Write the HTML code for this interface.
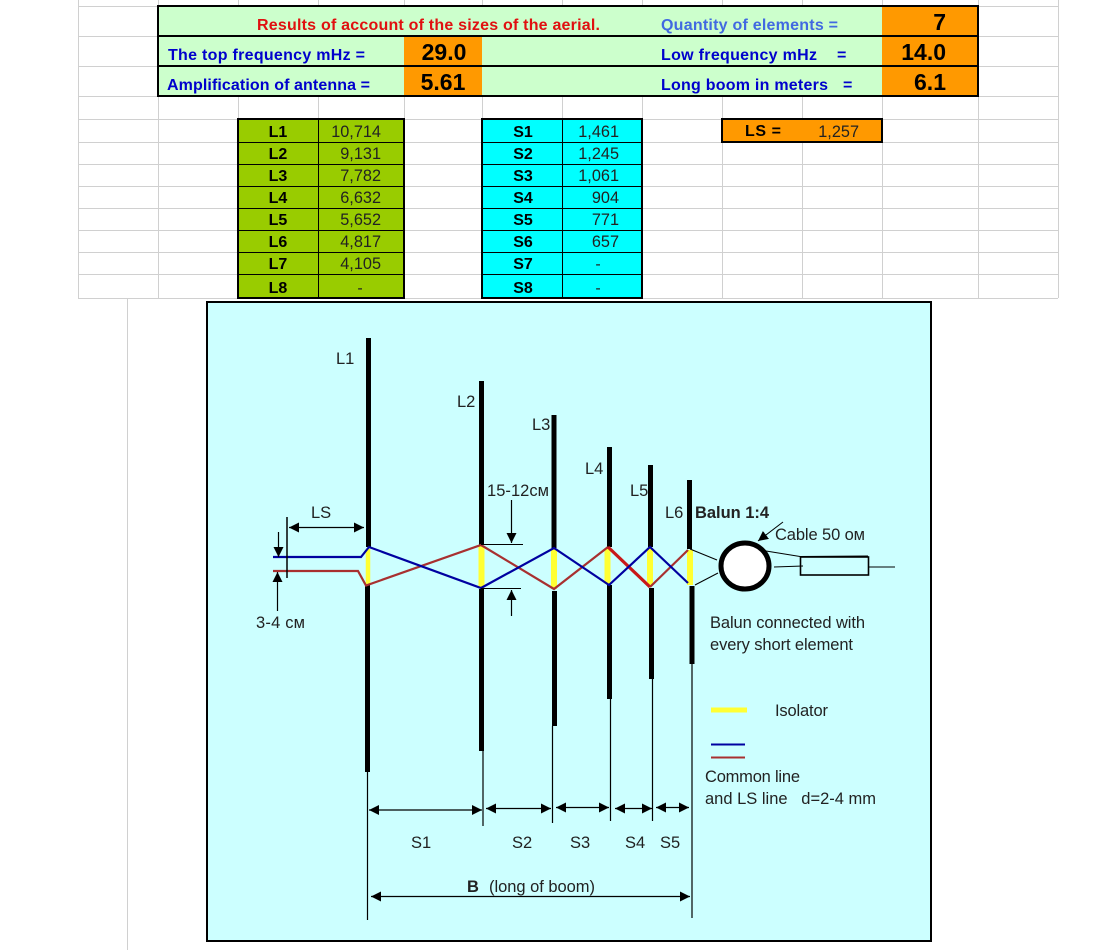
<!DOCTYPE html>
<html><head><meta charset="utf-8"><style>
html,body{margin:0;padding:0;background:#fff;width:1114px;height:950px;overflow:hidden}
svg{display:block}
text{font-family:"Liberation Sans","DejaVu Sans",sans-serif;white-space:pre}
.h{font-weight:bold;font-size:16px}
.b{fill:#0000cc}
.v{font-weight:bold;font-size:23px;fill:#000}
.tb{font-size:16px;font-weight:bold;fill:#000;text-anchor:middle}
.n{font-size:16.3px;fill:#222;text-anchor:end}
.d{font-size:16px;fill:#222;text-anchor:middle}
.x{font-size:16.5px;fill:#222}
</style></head><body>
<svg width="1114" height="950" viewBox="0 0 1114 950" xmlns="http://www.w3.org/2000/svg">
<defs>
<marker id="a" markerUnits="userSpaceOnUse" markerWidth="11" markerHeight="11" refX="10" refY="5.5" orient="auto-start-reverse"><path d="M0 0.5L10 5.5L0 10.5Z" fill="#000"/></marker>
</defs>
<!-- grid -->
<g stroke="#d0d0d0" stroke-width="1" fill="none">
<path d="M78.5 0V298M158.5 0V298M238.5 0V298M318.5 0V298M404.5 0V298M482.5 0V298M562.5 0V298M642.5 0V298M722.5 0V298M802.5 0V298M882.5 0V298M978.5 0V298M1058.5 0V298"/>
<path d="M78 6.5H1058M78 36.5H1058M78 66.5H1058M78 96.5H1058M78 119.5H1058M78 142.5H1058M78 164.5H1058M78 186.5H1058M78 208.5H1058M78 230.5H1058M78 252.5H1058M78 274.5H1058M78 298.5H1058"/>
<path d="M127.5 298V950"/>
</g>
<!-- header table -->
<rect x="158" y="6" width="820" height="90" fill="#ccffcc"/>
<rect x="404" y="36" width="78" height="60" fill="#ff9900"/>
<rect x="882" y="6" width="96" height="90" fill="#ff9900"/>
<rect x="158" y="6" width="820" height="90" fill="none" stroke="#000" stroke-width="2"/>
<path d="M158 36H978M158 66H978" stroke="#000" stroke-width="2"/>
<text class="h" x="257" y="30" fill="#e01010" textLength="343">Results of account of the sizes of the aerial.</text>
<text class="h" x="661" y="30" fill="#4169e1" textLength="177">Quantity of elements =</text>
<text class="h b" x="168" y="60" textLength="197">The top frequency mHz =</text>
<text class="h b" x="167" y="90" textLength="203">Amplification of antenna =</text>
<text class="h b" x="661" y="60" textLength="156">Low frequency mHz</text>
<text class="h b" x="837" y="60">=</text>
<text class="h b" x="661" y="90" textLength="167">Long boom in meters</text>
<text class="h b" x="843" y="90">=</text>
<text class="v" x="444" y="60" text-anchor="middle">29.0</text>
<text class="v" x="443" y="90" text-anchor="middle">5.61</text>
<text class="v" x="946" y="30" text-anchor="end">7</text>
<text class="v" x="946" y="60" text-anchor="end">14.0</text>
<text class="v" x="946" y="90" text-anchor="end">6.1</text>
<!-- tables -->
<rect x="238" y="119" width="166" height="179" fill="#99cc00"/>
<rect x="482" y="119" width="160" height="179" fill="#00ffff"/>
<rect x="722" y="119" width="160" height="23" fill="#ff9900"/>
<g stroke="#000" stroke-width="1" fill="none">
<path d="M238 142.5H404M238 164.5H404M238 186.5H404M238 208.5H404M238 230.5H404M238 252.5H404M238 274.5H404M318.5 119V298"/>
<path d="M482 142.5H642M482 164.5H642M482 186.5H642M482 208.5H642M482 230.5H642M482 252.5H642M482 274.5H642M562.5 119V298"/>
</g>
<g stroke="#000" stroke-width="2" fill="none">
<rect x="238" y="119" width="166" height="179"/>
<rect x="482" y="119" width="160" height="179"/>
<rect x="722" y="119" width="160" height="23"/>
</g>
<text class="tb" x="278" y="137">L1</text><text class="tb" x="278" y="159">L2</text><text class="tb" x="278" y="181">L3</text><text class="tb" x="278" y="203">L4</text><text class="tb" x="278" y="225">L5</text><text class="tb" x="278" y="247">L6</text><text class="tb" x="278" y="269">L7</text><text class="tb" x="278" y="293">L8</text>
<text class="tb" x="523" y="137">S1</text><text class="tb" x="523" y="159">S2</text><text class="tb" x="523" y="181">S3</text><text class="tb" x="523" y="203">S4</text><text class="tb" x="523" y="225">S5</text><text class="tb" x="523" y="247">S6</text><text class="tb" x="523" y="269">S7</text><text class="tb" x="523" y="293">S8</text>
<text class="n" x="381" y="137">10,714</text><text class="n" x="381" y="159">9,131</text><text class="n" x="381" y="181">7,782</text><text class="n" x="381" y="203">6,632</text><text class="n" x="381" y="225">5,652</text><text class="n" x="381" y="247">4,817</text><text class="n" x="381" y="269">4,105</text>
<text class="d" x="360" y="293">-</text>
<text class="n" x="619" y="137">1,461</text><text class="n" x="619" y="159">1,245</text><text class="n" x="619" y="181">1,061</text><text class="n" x="619" y="203">904</text><text class="n" x="619" y="225">771</text><text class="n" x="619" y="247">657</text>
<text class="d" x="598" y="269">-</text><text class="d" x="598" y="293">-</text>
<text class="tb" x="763" y="136" textLength="36">LS =</text>
<text class="n" x="859" y="137">1,257</text>
<!-- panel -->
<rect x="207" y="302" width="724" height="639" fill="#ccffff" stroke="#000" stroke-width="2"/>
<!-- elements -->
<g stroke="#000" stroke-width="5" fill="none">
<path d="M368.5 338V547M367.5 585V772"/>
<path d="M481.5 381V545M481.5 589V751"/>
<path d="M554 415V548M554.5 591V726"/>
<path d="M609.5 447V547M609.5 585V699"/>
<path d="M650.5 465V547M651.5 588V679"/>
<path d="M689.5 480V549M692 586V664"/>
</g>
<g stroke="#000" stroke-width="1.2" fill="none">
<path d="M367.5 772V920M483 751V826M552.5 726V823M610.5 699V821M652.5 679V821M692 664V918"/>
</g>
<!-- isolators -->
<g stroke="#ffff33" fill="none">
<path stroke-width="4.5" d="M368 549V584"/>
<path stroke-width="6" d="M481.5 546V588M554 549V589M607.5 548V584M650 548V586M690 550V585"/>
</g>
<!-- feed lines -->
<path d="M273 571H358L366 585.5L481 545L554 589L608 547" fill="none" stroke="#a83030" stroke-width="2.2"/>
<path d="M608 547L650 587" fill="none" stroke="#c81818" stroke-width="3.2"/>
<path d="M650 587L688 550" fill="none" stroke="#a83030" stroke-width="2.2"/>
<path d="M273 557H361L369 547L481 588L554 548L609 585L650 547L688 583" fill="none" stroke="#0000a0" stroke-width="2.2"/>
<!-- balun -->
<g stroke="#000" stroke-width="1" fill="none">
<path d="M690 549L717 560M695 585L718 573M766 551L800 556.5L868 556M774 567L803 566M869 567H895"/>
</g>
<ellipse cx="745" cy="566" rx="24" ry="23" fill="#fff" stroke="#000" stroke-width="5"/>
<rect x="800.5" y="557" width="68" height="18" fill="none" stroke="#000" stroke-width="1.6"/>
<path d="M783 522L758 541" stroke="#000" stroke-width="1" fill="none" marker-end="url(#a)"/>
<!-- dims -->
<g stroke="#000" stroke-width="1.2" fill="none" marker-end="url(#a)">
<path d="M289 527.5H364" marker-start="url(#a)"/>
<path d="M278.5 532V557"/>
<path d="M277.5 611V572"/>
<path d="M511.5 500V543"/>
<path d="M511.5 616V590"/>
<path d="M369 810H482" marker-start="url(#a)"/>
<path d="M486 808.5H551" marker-start="url(#a)"/>
<path d="M556 807.5H609" marker-start="url(#a)"/>
<path d="M615 808.5H652" marker-start="url(#a)"/>
<path d="M656 807.5H689" marker-start="url(#a)"/>
<path d="M371 896.5H690" marker-start="url(#a)"/>
</g>
<path d="M287 517V578" stroke="#000" stroke-width="1.5"/>
<path d="M481 544.5H523M481 588.5H521" stroke="#000" stroke-width="1"/>
<!-- legend -->
<path d="M711 710H747" stroke="#ffff33" stroke-width="5"/>
<path d="M711 744.5H745" stroke="#0000a0" stroke-width="2"/>
<path d="M711 757.5H745" stroke="#a83030" stroke-width="2"/>
<!-- labels -->
<text class="x" x="336" y="364">L1</text>
<text class="x" x="457" y="407">L2</text>
<text class="x" x="532" y="430">L3</text>
<text class="x" x="585" y="474">L4</text>
<text class="x" x="630" y="496">L5</text>
<text class="x" x="665" y="518">L6</text>
<text class="x" x="695" y="518" font-weight="bold" fill="#000" textLength="74">Balun 1:4</text>
<text class="x" x="775" y="540" textLength="90">Cable 50 ом</text>
<text class="x" x="311" y="518">LS</text>
<text class="x" x="256" y="628" textLength="49">3-4 см</text>
<text class="x" x="487" y="496" textLength="62">15-12см</text>
<text class="x" x="710" y="628" textLength="155">Balun connected with</text>
<text class="x" x="710" y="650" textLength="143">every short element</text>
<text class="x" x="775" y="716" textLength="53">Isolator</text>
<text class="x" x="705" y="782" textLength="95">Common line</text>
<text class="x" x="705" y="804" textLength="171">and LS line   d=2-4 mm</text>
<text class="x" x="411" y="848">S1</text>
<text class="x" x="512" y="848">S2</text>
<text class="x" x="570" y="848">S3</text>
<text class="x" x="625" y="848">S4</text>
<text class="x" x="660" y="848">S5</text>
<text class="x" x="467" y="892" font-weight="bold" fill="#000">B</text>
<text class="x" x="489" y="892" textLength="106">(long of boom)</text>
</svg>
</body></html>
